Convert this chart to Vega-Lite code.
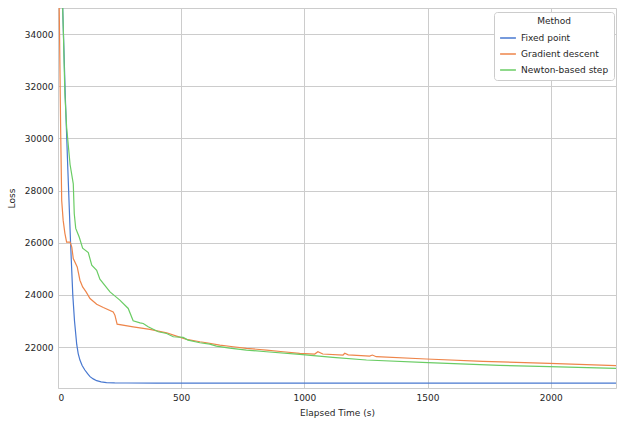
{
  "$schema": "https://vega.github.io/schema/vega-lite/v6.json",
  "width": 558,
  "height": 380,
  "autosize": {"type": "none"},
  "padding": {"left": 58, "top": 8, "right": 6, "bottom": 38},
  "background": "white",
  "config": {
    "font": "DejaVu Sans",
    "view": {"stroke": "#cccccc", "strokeWidth": 1},
    "axis": {
      "grid": true, "gridColor": "#cccccc", "gridWidth": 1,
      "domain": false, "ticks": false,
      "labelFont": "DejaVu Sans", "labelFontSize": 9, "labelColor": "#262626",
      "titleFont": "DejaVu Sans", "titleFontSize": 9, "titleColor": "#262626", "titleFontWeight": "normal",
      "labelPadding": 5
    }
  },
  "data": {
    "values": [
      {"t": 8, "loss": 38000, "method": "Fixed point"},
      {"t": 19, "loss": 35000, "method": "Fixed point"},
      {"t": 30, "loss": 31500, "method": "Fixed point"},
      {"t": 40, "loss": 28800, "method": "Fixed point"},
      {"t": 51, "loss": 26000, "method": "Fixed point"},
      {"t": 60, "loss": 24000, "method": "Fixed point"},
      {"t": 67, "loss": 23000, "method": "Fixed point"},
      {"t": 76, "loss": 22100, "method": "Fixed point"},
      {"t": 82, "loss": 21750, "method": "Fixed point"},
      {"t": 89, "loss": 21500, "method": "Fixed point"},
      {"t": 98, "loss": 21290, "method": "Fixed point"},
      {"t": 109, "loss": 21120, "method": "Fixed point"},
      {"t": 120, "loss": 20980, "method": "Fixed point"},
      {"t": 130, "loss": 20865, "method": "Fixed point"},
      {"t": 143, "loss": 20780, "method": "Fixed point"},
      {"t": 157, "loss": 20710, "method": "Fixed point"},
      {"t": 175, "loss": 20665, "method": "Fixed point"},
      {"t": 197, "loss": 20638, "method": "Fixed point"},
      {"t": 230, "loss": 20626, "method": "Fixed point"},
      {"t": 280, "loss": 20621, "method": "Fixed point"},
      {"t": 400, "loss": 20620, "method": "Fixed point"},
      {"t": 1000, "loss": 20620, "method": "Fixed point"},
      {"t": 2265, "loss": 20620, "method": "Fixed point"},

      {"t": 0, "loss": 40000, "method": "Gradient descent"},
      {"t": 5, "loss": 35000, "method": "Gradient descent"},
      {"t": 11, "loss": 30183, "method": "Gradient descent"},
      {"t": 15, "loss": 27621, "method": "Gradient descent"},
      {"t": 21, "loss": 26856, "method": "Gradient descent"},
      {"t": 28, "loss": 26360, "method": "Gradient descent"},
      {"t": 35, "loss": 26027, "method": "Gradient descent"},
      {"t": 49, "loss": 26027, "method": "Gradient descent"},
      {"t": 56, "loss": 25835, "method": "Gradient descent"},
      {"t": 62, "loss": 25391, "method": "Gradient descent"},
      {"t": 78, "loss": 25070, "method": "Gradient descent"},
      {"t": 89, "loss": 24562, "method": "Gradient descent"},
      {"t": 100, "loss": 24306, "method": "Gradient descent"},
      {"t": 114, "loss": 24115, "method": "Gradient descent"},
      {"t": 130, "loss": 23862, "method": "Gradient descent"},
      {"t": 157, "loss": 23644, "method": "Gradient descent"},
      {"t": 184, "loss": 23518, "method": "Gradient descent"},
      {"t": 224, "loss": 23350, "method": "Gradient descent"},
      {"t": 231, "loss": 23224, "method": "Gradient descent"},
      {"t": 240, "loss": 22880, "method": "Gradient descent"},
      {"t": 305, "loss": 22776, "method": "Gradient descent"},
      {"t": 373, "loss": 22677, "method": "Gradient descent"},
      {"t": 441, "loss": 22547, "method": "Gradient descent"},
      {"t": 481, "loss": 22420, "method": "Gradient descent"},
      {"t": 522, "loss": 22295, "method": "Gradient descent"},
      {"t": 576, "loss": 22203, "method": "Gradient descent"},
      {"t": 603, "loss": 22165, "method": "Gradient descent"},
      {"t": 657, "loss": 22077, "method": "Gradient descent"},
      {"t": 711, "loss": 22012, "method": "Gradient descent"},
      {"t": 765, "loss": 21950, "method": "Gradient descent"},
      {"t": 846, "loss": 21885, "method": "Gradient descent"},
      {"t": 914, "loss": 21820, "method": "Gradient descent"},
      {"t": 981, "loss": 21760, "method": "Gradient descent"},
      {"t": 1042, "loss": 21733, "method": "Gradient descent"},
      {"t": 1055, "loss": 21820, "method": "Gradient descent"},
      {"t": 1075, "loss": 21733, "method": "Gradient descent"},
      {"t": 1157, "loss": 21694, "method": "Gradient descent"},
      {"t": 1164, "loss": 21760, "method": "Gradient descent"},
      {"t": 1178, "loss": 21700, "method": "Gradient descent"},
      {"t": 1265, "loss": 21656, "method": "Gradient descent"},
      {"t": 1276, "loss": 21694, "method": "Gradient descent"},
      {"t": 1292, "loss": 21630, "method": "Gradient descent"},
      {"t": 1495, "loss": 21541, "method": "Gradient descent"},
      {"t": 1725, "loss": 21453, "method": "Gradient descent"},
      {"t": 1995, "loss": 21377, "method": "Gradient descent"},
      {"t": 2265, "loss": 21285, "method": "Gradient descent"},

      {"t": 10, "loss": 38000, "method": "Newton-based step"},
      {"t": 19, "loss": 35000, "method": "Newton-based step"},
      {"t": 22, "loss": 34000, "method": "Newton-based step"},
      {"t": 28, "loss": 31700, "method": "Newton-based step"},
      {"t": 35, "loss": 30424, "method": "Newton-based step"},
      {"t": 49, "loss": 29000, "method": "Newton-based step"},
      {"t": 62, "loss": 28260, "method": "Newton-based step"},
      {"t": 66, "loss": 27113, "method": "Newton-based step"},
      {"t": 72, "loss": 26550, "method": "Newton-based step"},
      {"t": 86, "loss": 26218, "method": "Newton-based step"},
      {"t": 100, "loss": 25790, "method": "Newton-based step"},
      {"t": 123, "loss": 25620, "method": "Newton-based step"},
      {"t": 137, "loss": 25136, "method": "Newton-based step"},
      {"t": 157, "loss": 24945, "method": "Newton-based step"},
      {"t": 170, "loss": 24600, "method": "Newton-based step"},
      {"t": 211, "loss": 24115, "method": "Newton-based step"},
      {"t": 251, "loss": 23798, "method": "Newton-based step"},
      {"t": 285, "loss": 23480, "method": "Newton-based step"},
      {"t": 305, "loss": 23006, "method": "Newton-based step"},
      {"t": 333, "loss": 22929, "method": "Newton-based step"},
      {"t": 346, "loss": 22904, "method": "Newton-based step"},
      {"t": 366, "loss": 22776, "method": "Newton-based step"},
      {"t": 407, "loss": 22585, "method": "Newton-based step"},
      {"t": 441, "loss": 22521, "method": "Newton-based step"},
      {"t": 468, "loss": 22394, "method": "Newton-based step"},
      {"t": 508, "loss": 22371, "method": "Newton-based step"},
      {"t": 528, "loss": 22268, "method": "Newton-based step"},
      {"t": 576, "loss": 22164, "method": "Newton-based step"},
      {"t": 616, "loss": 22115, "method": "Newton-based step"},
      {"t": 643, "loss": 22038, "method": "Newton-based step"},
      {"t": 697, "loss": 21962, "method": "Newton-based step"},
      {"t": 765, "loss": 21885, "method": "Newton-based step"},
      {"t": 846, "loss": 21820, "method": "Newton-based step"},
      {"t": 981, "loss": 21720, "method": "Newton-based step"},
      {"t": 1116, "loss": 21606, "method": "Newton-based step"},
      {"t": 1252, "loss": 21503, "method": "Newton-based step"},
      {"t": 1502, "loss": 21400, "method": "Newton-based step"},
      {"t": 1792, "loss": 21300, "method": "Newton-based step"},
      {"t": 1995, "loss": 21250, "method": "Newton-based step"},
      {"t": 2265, "loss": 21186, "method": "Newton-based step"}
    ]
  },
  "mark": {"type": "line", "strokeWidth": 1.2, "clip": true},
  "encoding": {
    "x": {
      "field": "t", "type": "quantitative", "title": "Elapsed Time (s)",
      "scale": {"domain": [0, 2265], "nice": false, "zero": false},
      "axis": {"values": [0, 500, 1000, 1500, 2000], "format": "d", "titlePadding": 6}
    },
    "y": {
      "field": "loss", "type": "quantitative", "title": "Loss",
      "scale": {"domain": [20430, 35000], "nice": false, "zero": false},
      "axis": {"values": [22000, 24000, 26000, 28000, 30000, 32000, 34000], "format": "d", "titlePadding": 8}
    },
    "color": {
      "field": "method", "type": "nominal", "title": "Method",
      "scale": {"domain": ["Fixed point", "Gradient descent", "Newton-based step"], "range": ["#4878d0", "#ee854a", "#6acc64"]},
      "legend": {
        "orient": "none", "legendX": 436, "legendY": 4,
        "symbolType": "stroke", "symbolSize": 250, "symbolStrokeWidth": 1.5,
        "fillColor": "white", "strokeColor": "#cccccc", "cornerRadius": 3, "padding": 5,
        "titleFont": "DejaVu Sans", "titleFontSize": 9, "titleFontWeight": "normal", "titleColor": "#262626",
        "titleAnchor": "middle", "titlePadding": 3,
        "labelFont": "DejaVu Sans", "labelFontSize": 9, "labelColor": "#262626",
        "rowPadding": 2
      }
    }
  }
}
